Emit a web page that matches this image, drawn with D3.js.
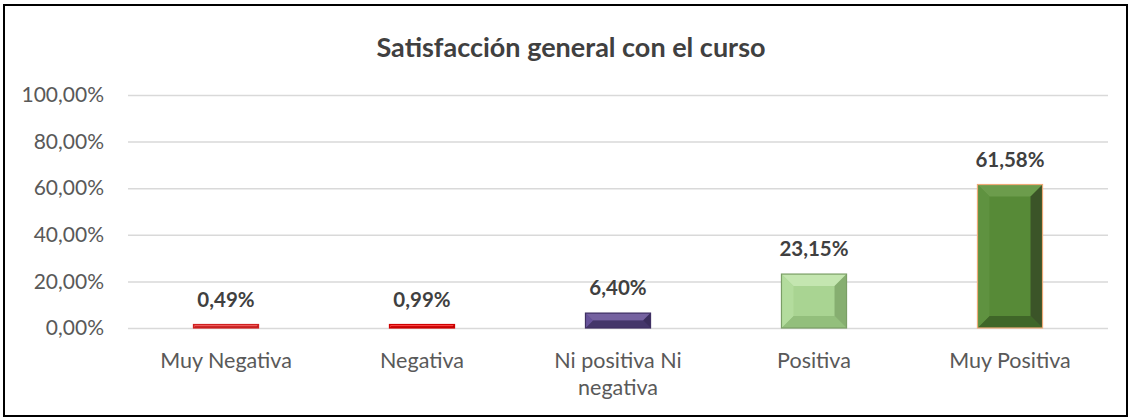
<!DOCTYPE html>
<html><head><meta charset="utf-8">
<script src="https://cdn.jsdelivr.net/npm/d3@7/dist/d3.min.js"></script>
<style>body{margin:0;background:#fff}svg{display:block}</style>
</head><body>
<svg id="c" width="1130" height="419"></svg>
<script>
const categories = ["Muy Negativa", "Negativa", "Ni positiva Ni negativa", "Positiva", "Muy Positiva"];
const values = [0.49, 0.99, 6.40, 23.15, 61.58];
const valueLabels = ["0,49%", "0,99%", "6,40%", "23,15%", "61,58%"];
const yTicks = [0, 20, 40, 60, 80, 100];
const yTickLabels = ["0,00%", "20,00%", "40,00%", "60,00%", "80,00%", "100,00%"];
const title = "Satisfacción general con el curso";

const palettes = [
  {face:"#e23c3c", top:"#f26262", bottom:"#c02020", left:"#e84848", right:"#b01818", stroke:"#d02020"},
  {face:"#ea1a1a", top:"#ff4a4a", bottom:"#c00000", left:"#f03030", right:"#a00000", stroke:"#d00000"},
  {face:"#5f4b8b", top:"#7562a0", bottom:"#44366a", left:"#67539a", right:"#3a2d5c", stroke:"#3f3063"},
  {face:"#a9d492", top:"#c4e6b0", bottom:"#93bf7c", left:"#b3dc9d", right:"#86ae70", stroke:"#7a9e66"},
  {face:"#578a37", top:"#6c9c4c", bottom:"#3f6628", left:"#5f9240", right:"#3b5428", stroke:"#eeaa78"}
];

const svg = d3.select("#c");
svg.append("rect").attr("x",4).attr("y",5).attr("width",1123).attr("height",411)
  .attr("fill","#fff").attr("stroke","#000").attr("stroke-width",2);

const font = "Lato, 'Open Sans', sans-serif";
const x = d3.scaleBand().domain(categories).range([128, 1108]).paddingInner(0.668).paddingOuter(0.334);
const y = d3.scaleLinear().domain([0, 100]).range([328, 95]);

svg.append("text").attr("x", 571).attr("y", 57).attr("text-anchor","middle")
  .attr("font-family", font).attr("font-weight","bold").attr("font-size", 27)
  .attr("fill","#404040").text(title);

const yAxis = d3.axisLeft(y).tickValues(yTicks).tickFormat((d,i)=>yTickLabels[i])
  .tickSize(-(1108-128)).tickPadding(24);
const ga = svg.append("g").attr("transform","translate(128,0)").call(yAxis);
ga.select(".domain").remove();
ga.selectAll(".tick line").attr("stroke","#d9d9d9").attr("stroke-width",1.5);
ga.selectAll(".tick text").attr("font-family", font).attr("font-size", 21).attr("fill","#595959");

const xAxis = d3.axisBottom(x).tickSize(0).tickPadding(25);
const gx = svg.append("g").attr("transform","translate(0,328)").call(xAxis);
gx.select(".domain").remove();
gx.selectAll(".tick text").attr("font-family", font).attr("font-size", 21.5).attr("fill","#595959")
  .each(function(d){
    const t = d3.select(this);
    if (d === "Ni positiva Ni negativa") {
      t.text(null);
      t.append("tspan").attr("x",0).attr("dy","0.71em").text("Ni positiva Ni");
      t.append("tspan").attr("x",0).attr("y", 25).attr("dy", 27 + 0.71*21.5).text("negativa");
      t.attr("dy", null);
    }
  });

const bars = svg.append("g");
categories.forEach((c,i)=>{
  const p = palettes[i];
  const x0 = x(c), w = x.bandwidth();
  const y0 = y(values[i]), y1 = y(0);
  const h = Math.max(y1 - y0, 3.5);
  const top = y1 - h;
  const b = Math.min(12, h/2, w/2);
  const g = bars.append("g");
  g.append("rect").attr("x",x0).attr("y",top).attr("width",w).attr("height",h).attr("fill",p.face);
  const poly = pts => g.append("polygon").attr("points", pts.map(q=>q.join(",")).join(" "));
  poly([[x0,top],[x0+w,top],[x0+w-b,top+b],[x0+b,top+b]]).attr("fill",p.top);
  poly([[x0,y1],[x0+w,y1],[x0+w-b,y1-b],[x0+b,y1-b]]).attr("fill",p.bottom);
  poly([[x0,top],[x0+b,top+b],[x0+b,y1-b],[x0,y1]]).attr("fill",p.left);
  poly([[x0+w,top],[x0+w-b,top+b],[x0+w-b,y1-b],[x0+w,y1]]).attr("fill",p.right);
  g.append("rect").attr("x",x0).attr("y",top).attr("width",w).attr("height",h)
    .attr("fill","none").attr("stroke",p.stroke).attr("stroke-width",1.2);
  svg.append("text").attr("x", x0 + w/2).attr("y", top - 18).attr("text-anchor","middle")
    .attr("font-family", font).attr("font-weight","bold").attr("font-size", 20.5)
    .attr("fill","#404040").text(valueLabels[i]);
});
</script>
</body></html>
